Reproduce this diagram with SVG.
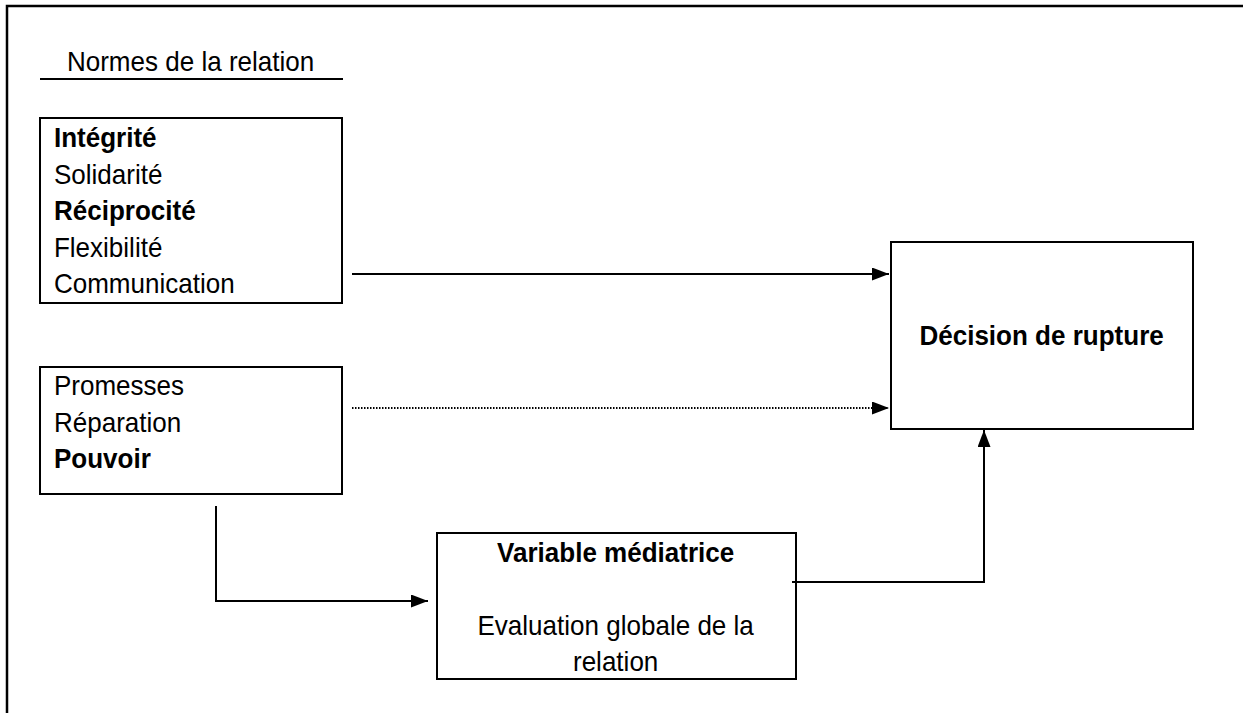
<svg xmlns="http://www.w3.org/2000/svg" width="1243" height="713" viewBox="0 0 1243 713">
<defs>
<marker id="ah" markerWidth="17" markerHeight="13" refX="17" refY="6.5" orient="auto" markerUnits="userSpaceOnUse">
<path d="M0,0 L17,6.5 L0,13 Z" fill="#000"/>
</marker>
<style>
text{font-family:"Liberation Sans",Arial,sans-serif;font-size:28px;fill:#000}
.b{font-weight:bold}
.box{fill:#fff;stroke:#000;stroke-width:2}
.ln{fill:none;stroke:#000;stroke-width:2}
.dot{fill:none;stroke:#000;stroke-width:2;stroke-dasharray:1.5 1.5}
</style>
</defs>
<rect width="1243" height="713" fill="#fff"/>
<g id="frame">
<path d="M7,713 L7,6 L1243,6" fill="none" stroke="#000" stroke-width="2.5"/>
</g>
<g id="header">
<line x1="40" y1="79" x2="343" y2="79" stroke="#000" stroke-width="2"/>
<g transform="scale(0.93,1)"><text x="72" y="71">Normes de la relation</text></g>
</g>
<g id="normes">
<rect class="box" x="40" y="118" width="302" height="185"/>
<g transform="scale(0.93,1)">
<text x="58" y="147" class="b">Intégrité</text>
<text x="58" y="184">Solidarité</text>
<text x="58" y="220" class="b">Réciprocité</text>
<text x="58" y="257">Flexibilité</text>
<text x="58" y="293">Communication</text>
</g>
</g>
<g id="promesses">
<rect class="box" x="40" y="367" width="302" height="127"/>
<g transform="scale(0.93,1)">
<text x="58" y="395">Promesses</text>
<text x="58" y="432">Réparation</text>
<text x="58" y="468" class="b">Pouvoir</text>
</g>
</g>
<g id="decision">
<rect class="box" x="891" y="242" width="302" height="187"/>
<g transform="scale(0.93,1)"><text x="1120" y="345" text-anchor="middle" class="b">Décision de rupture</text></g>
</g>
<g id="mediatrice">
<rect class="box" x="437" y="533" width="359" height="146"/>
<g transform="scale(0.93,1)">
<text x="662" y="562" text-anchor="middle" class="b">Variable médiatrice</text>
<text x="662" y="635" text-anchor="middle">Evaluation globale de la</text>
<text x="662" y="671" text-anchor="middle">relation</text>
</g>
</g>
<g id="connectors">
<line class="ln" x1="352" y1="274" x2="889" y2="274" marker-end="url(#ah)"/>
<line class="dot" x1="352" y1="408" x2="889" y2="408" marker-end="url(#ah)"/>
<path class="ln" d="M216,506 L216,601 L428,601" marker-end="url(#ah)"/>
<path class="ln" d="M792,582 L984,582 L984,430" marker-end="url(#ah)"/>
</g>
</svg>
